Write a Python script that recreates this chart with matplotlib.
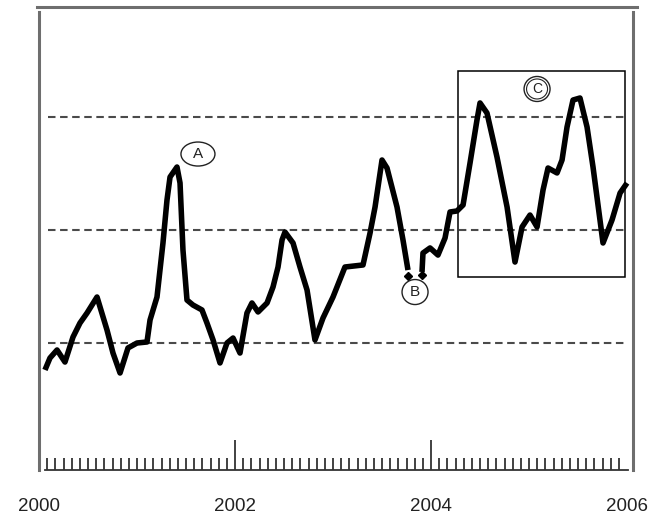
import matplotlib
matplotlib.use("Agg")
import matplotlib.pyplot as plt
from matplotlib.lines import Line2D
from matplotlib.patches import Ellipse, Rectangle

plt.rcParams['font.family'] = ['Liberation Sans', 'DejaVu Sans']

# series (decimal year, value); the line breaks at B
years_a = [2000.061, 2000.112, 2000.184, 2000.265, 2000.347, 2000.418, 2000.490,
           2000.592, 2000.694, 2000.755, 2000.827, 2000.908, 2001.000, 2001.102,
           2001.133, 2001.204, 2001.265, 2001.306, 2001.337, 2001.408, 2001.439,
           2001.469, 2001.510, 2001.571, 2001.663, 2001.714, 2001.776, 2001.847,
           2001.918, 2001.980, 2002.051, 2002.122, 2002.173, 2002.235, 2002.327,
           2002.388, 2002.439, 2002.480, 2002.510, 2002.592, 2002.663, 2002.735,
           2002.816, 2002.898, 2003.000, 2003.122, 2003.306, 2003.378, 2003.429,
           2003.500, 2003.551, 2003.653, 2003.714, 2003.765]
values_a = [0.761, 0.867, 0.938, 0.831, 1.053, 1.177, 1.266,
            1.408, 1.115, 0.911, 0.734, 0.956, 1.000, 1.009,
            1.204, 1.408, 1.887, 2.268, 2.472, 2.561, 2.419,
            1.825, 1.381, 1.337, 1.293, 1.177, 1.027, 0.823,
            1.000, 1.044, 0.911, 1.266, 1.355, 1.275, 1.355,
            1.497, 1.674, 1.914, 1.984, 1.887, 1.674, 1.470,
            1.027, 1.222, 1.408, 1.674, 1.692, 1.976, 2.206,
            2.623, 2.552, 2.206, 1.914, 1.647]

years_b = [2003.908, 2003.918, 2003.990, 2004.071, 2004.143, 2004.194, 2004.265,
           2004.327, 2004.398, 2004.469, 2004.500, 2004.571, 2004.673, 2004.776,
           2004.857, 2004.929, 2005.010, 2005.082, 2005.143, 2005.194, 2005.286,
           2005.337, 2005.388, 2005.449, 2005.520, 2005.592, 2005.653, 2005.755,
           2005.847, 2005.929, 2006.000]
values_b = [1.630, 1.798, 1.843, 1.780, 1.931, 2.162, 2.171,
            2.224, 2.596, 2.978, 3.129, 3.040, 2.650, 2.206,
            1.718, 2.029, 2.135, 2.029, 2.357, 2.552, 2.508,
            2.623, 2.916, 3.155, 3.173, 2.916, 2.561, 1.887,
            2.091, 2.330, 2.419]

ref_levels = [1, 2, 3]
year_labels = [2000, 2002, 2004, 2006]
major_years = [2002, 2004]

W, H = 657, 516
fig = plt.figure(figsize=(W / 100, H / 100), dpi=100)
ax = fig.add_axes([39 / W, 46 / H, 594 / W, 458 / H])
ax.set_xlim(2000, 2006.061)
ax.set_ylim(-0.1264, 3.9357)

# px per data unit, for round markers
sx, sy = 98.0, 112.75

for lv in ref_levels:
    ax.hlines(lv, 2000.09, 2006.0, colors='#4a4a4a', linewidth=1.5,
              linestyles=(0, (3.6, 2.2)), zorder=1)

ax.plot(years_a, values_a, color='black', linewidth=4, solid_joinstyle='round',
        solid_capstyle='butt', zorder=3)
ax.plot(years_b, values_b, color='black', linewidth=4, solid_joinstyle='round',
        solid_capstyle='butt', zorder=3)
# little arrow heads at the break
ax.plot([years_a[-1], years_b[0]], [values_a[-1] - 0.05, values_b[0] - 0.03],
        linestyle='none', marker='D', markersize=4.5, color='black', zorder=4)

# annotations A, B, C
ax.add_patch(Ellipse((2001.622, 2.676), 34 / sx, 24 / sy, fill=False,
                     edgecolor='#222222', linewidth=1.0, zorder=5))
ax.text(2001.622, 2.676, 'A', ha='center', va='center', fontsize=11, color='#222222')

ax.add_patch(Ellipse((2003.837, 1.452), 26 / sx, 25 / sy, fill=False,
                     edgecolor='#222222', linewidth=1.0, zorder=5))
ax.text(2003.837, 1.452, 'B', ha='center', va='center', fontsize=11, color='#222222')

ax.add_patch(Ellipse((2005.082, 3.253), 26 / sx, 25 / sy, fill=False,
                     edgecolor='#222222', linewidth=1.0, zorder=5))
ax.add_patch(Ellipse((2005.082, 3.253), 21 / sx, 20 / sy, fill=False,
                     edgecolor='#222222', linewidth=0.8, zorder=5))
ax.text(2005.082, 3.253, 'C', ha='center', va='center', fontsize=10, color='#222222')

ax.add_patch(Rectangle((2004.276, 1.585), 2005.980 - 2004.276, 3.412 - 1.585,
                       fill=False, edgecolor='black', linewidth=1.1, zorder=5))

# frame
ax.spines['top'].set_visible(False)
for side in ['left', 'right']:
    ax.spines[side].set_color('#6e6e6e')
    ax.spines[side].set_linewidth(2.2)
ax.spines['bottom'].set_color('#333333')
ax.spines['bottom'].set_linewidth(1.3)
ax.spines['bottom'].set_bounds(2000.06, 2006.01)
fig.add_artist(Line2D([37 / W, 637 / W], [1 - 7 / H, 1 - 7 / H], color='#6e6e6e',
                      linewidth=2.2, transform=fig.transFigure))

ax.set_yticks([])
ax.set_xticks(major_years)
ax.set_xticklabels([])
ax.set_xticks([2000 + m / 12 for m in range(1, 72)], minor=True)
ax.tick_params(axis='x', which='major', direction='in', length=21.6, width=1.3,
               color='#333333')
ax.tick_params(axis='x', which='minor', direction='in', length=8.6, width=1.3,
               color='#333333')

for yr in year_labels:
    ax.annotate(str(yr), xy=(yr, 0), xycoords=('data', 'axes fraction'),
                xytext=(0, -26), textcoords='offset points', ha='center',
                va='center', fontsize=13.5, color='#222222', annotation_clip=False)

fig.savefig('out.png', dpi=100)
